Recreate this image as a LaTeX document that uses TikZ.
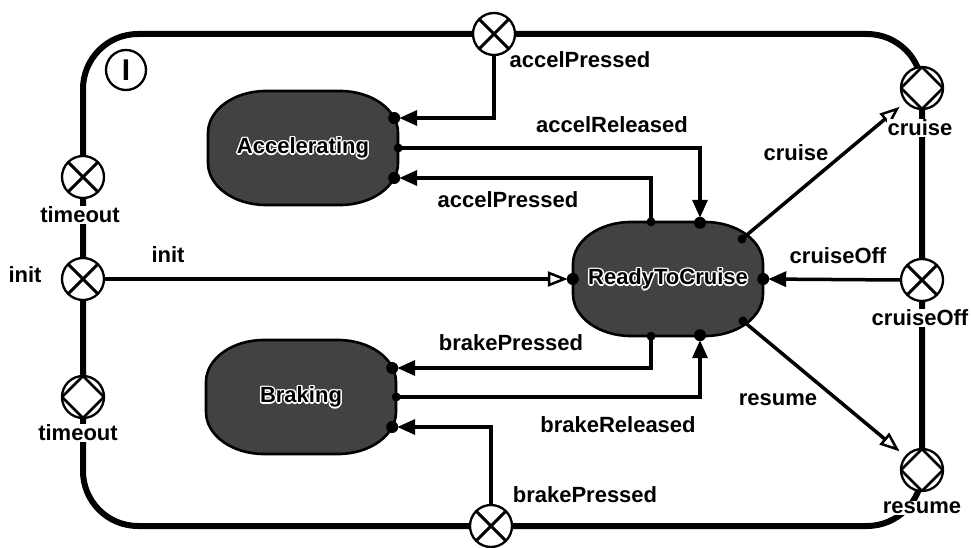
\documentclass[tikz,border=0pt]{standalone}
\usepackage{fontspec}
\setmainfont{Liberation Sans}
\usetikzlibrary{arrows.meta,calc}
\newcommand\outlinedtext[1]{\leavevmode
 \rlap{\color{white}\kern-1.5pt\hbox{#1}}%
 \rlap{\color{white}\kern1.5pt\hbox{#1}}%
 \rlap{\color{white}\raisebox{1.5pt}{#1}}%
 \rlap{\color{white}\raisebox{-1.5pt}{#1}}%
 \rlap{\color{white}\kern-1.1pt\raisebox{1.1pt}{#1}}%
 \rlap{\color{white}\kern1.1pt\raisebox{1.1pt}{#1}}%
 \rlap{\color{white}\kern-1.1pt\raisebox{-1.1pt}{#1}}%
 \rlap{\color{white}\kern1.1pt\raisebox{-1.1pt}{#1}}%
 \hbox{#1}}
% oval state outline: short flat top/bottom and sides, elliptical corners
\newcommand\stoval[2]{%
 \draw[stshape, shift={(#1,#2)}]
  (-37pt,-57pt) -- (37pt,-57pt)
  arc[start angle=-90,end angle=0,x radius=58pt,y radius=42pt] -- (95pt,15pt)
  arc[start angle=0,end angle=90,x radius=58pt,y radius=42pt] -- (-37pt,57pt)
  arc[start angle=90,end angle=180,x radius=58pt,y radius=42pt] -- (-95pt,-15pt)
  arc[start angle=180,end angle=270,x radius=58pt,y radius=42pt] -- cycle;}
\begin{document}
\begin{tikzpicture}[x=1pt,y=-1pt,
  every node/.style={font=\bfseries\fontsize{22}{26}\selectfont},
  border/.style={line width=6pt, rounded corners=55pt},
  portbase/.style={circle, draw, line width=2.3pt, fill=white, minimum size=42pt, inner sep=0pt},
  xport/.style={portbase, path picture={\draw[line width=3pt]
     (path picture bounding box.north west) -- (path picture bounding box.south east)
     (path picture bounding box.north east) -- (path picture bounding box.south west);}},
  dport/.style={portbase, path picture={\draw[line width=2.6pt]
     (path picture bounding box.north) -- (path picture bounding box.east) --
     (path picture bounding box.south) -- (path picture bounding box.west) -- cycle;}},
  stshape/.style={line width=2.6pt, fill=black!74},
  stbox/.style={minimum width=190pt, minimum height=114pt, inner sep=0pt},
  conn/.style={line width=3.5pt},
  ftip/.style={-{Triangle[length=18pt,width=15pt]}, shorten >=5pt},
  otip/.style={-{Triangle[open,length=20pt,width=15pt,line width=2.5pt,fill=white]}},
  lbl/.style={inner sep=1pt},
  blbl/.style={inner sep=1pt, fill=white},
  tdot/.style={fill=black},
]
\useasboundingbox (0,0) rectangle (971,548);

% outer boundary
\draw[border] (83,34) rectangle (922,526);

% identification circle
\node[draw, circle, line width=2.3pt, minimum size=40pt, inner sep=0pt,
      font=\bfseries\fontsize{30}{30}\selectfont] (ident) at (126,70) {I};

% states
\stoval{303}{148}
\stoval{301}{397}
\stoval{668}{279}
\node[stbox] (acc) at (303,148) {\outlinedtext{Accelerating}};
\node[stbox] (brk) at (301,397) {\outlinedtext{Braking}};
\node[stbox] (rtc) at (668,279) {\outlinedtext{ReadyToCruise}};

% ports
\node[xport] (pa)  at (494,34)  {};
\node[xport] (pto) at (83,177)  {};
\node[xport] (pin) at (83,279)  {};
\node[dport] (pti) at (83,397)  {};
\node[xport] (pb)  at (491,526) {};
\node[dport] (pc)  at (922,88)  {};
\node[xport] (pco) at (922,280) {};
\node[dport] (pr)  at (922,470) {};

% connection points on states
\coordinate (a1) at ([xshift=-4pt,yshift=30pt]acc.east);
\coordinate (a2) at (acc.east);
\coordinate (a3) at ([xshift=-4pt,yshift=-30pt]acc.east);
\coordinate (b1) at ([xshift=-4pt,yshift=29pt]brk.east);
\coordinate (b2) at (brk.east);
\coordinate (b3) at ([xshift=-4pt,yshift=-30pt]brk.east);
\coordinate (rn1) at ([xshift=-17pt]rtc.north);
\coordinate (rn2) at ([xshift=32pt,yshift=-1pt]rtc.north);
\coordinate (rs1) at ([xshift=-17pt]rtc.south);
\coordinate (rs2) at ([xshift=32pt,yshift=1pt]rtc.south);
\coordinate (rw) at (rtc.west);
\coordinate (re) at (rtc.east);
\coordinate (rc) at ($(rtc.center)+(74pt,40pt)$);
\coordinate (rr) at ($(rtc.center)+(75pt,-42pt)$);

% connectors
\draw[conn, ftip] (pa.south) |- (a1);
\draw[conn, ftip] (a2) -| (rn2);
\draw[conn, ftip] (rn1) |- (a3);
\draw[conn, otip, shorten >=5pt] (pin.east) -- (rw);
\draw[conn, otip, shorten >=7pt] (rc) -- (pc);
\draw[conn, ftip] (pco.west) -- (re);
\draw[conn, otip, shorten >=7pt] (rr) -- (pr);
\draw[conn, ftip] (rs1) |- (b1);
\draw[conn, ftip] (b2) -| (rs2);
\draw[conn, ftip] (pb.north) |- (b3);

% connection dots
\foreach \p in {a1,a3,b1,b3,rn2,rs2,rw,re}{\fill[tdot] (\p) circle (6pt);}
\foreach \p in {a2,b2,rn1,rs1,rc,rr}{\fill[tdot] (\p) circle (4.5pt);}

% labels
\node[lbl] (l1) at (580,60) {accelPressed};
\node[lbl] (l2) at (612,125) {accelReleased};
\node[lbl] (l3) at (508,200) {accelPressed};
\node[lbl] (l4) at (168,255) {init};
\node[lbl] (l5) at (25,275) {init};
\node[blbl] (l6) at (80,215) {timeout};
\node[blbl] (l7) at (78,433) {timeout};
\node[lbl] (l8) at (796,153) {cruise};
\node[blbl] (l9) at (920,128) {cruise};
\node[lbl] (l10) at (838,256) {cruiseOff};
\node[blbl] (l11) at (920,318) {cruiseOff};
\node[lbl] (l12) at (511,343) {brakePressed};
\node[lbl] (l13) at (618,425) {brakeReleased};
\node[lbl] (l14) at (778,400) {resume};
\node[lbl] (l15) at (585,495) {brakePressed};
\node[blbl] (l16) at (922,508) {resume};
\end{tikzpicture}
\end{document}
